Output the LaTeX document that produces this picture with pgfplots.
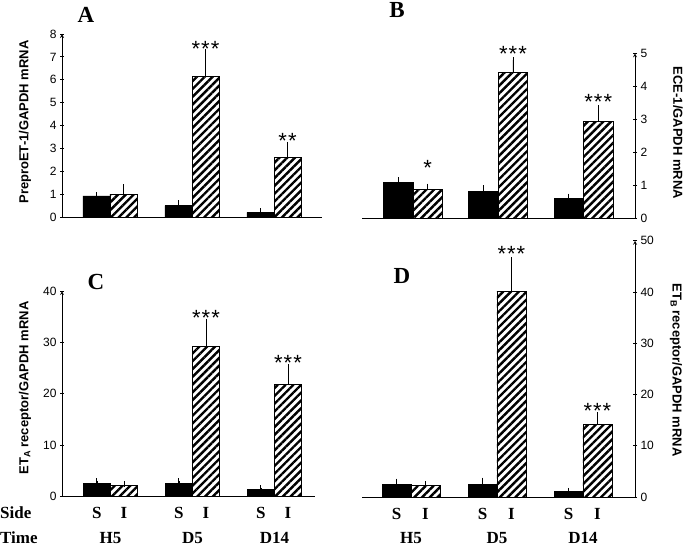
\documentclass[border=0pt]{standalone}
\usepackage{fontspec}
\setmainfont{Liberation Serif}
\newfontfamily\arial{Liberation Sans}
\usepackage{pgfplots}
\pgfplotsset{compat=1.18}
\usepackage{pgfplotstable}
\usetikzlibrary{patterns.meta}

% groups H5, D5, D14 at 0, 1, 2; xs/xi = bar centres of S and I sides
% s/se = S side mean and upper error, i/ie = I side
\pgfplotstableread{
xs xi s se i ie
-0.165 0.165 0.92 0.04 1.0 0.3
0.835 1.165 0.50 0.10 6.15 1.05
1.835 2.165 0.20 0.05 2.60 0.55
}\tabA
\pgfplotstableread{
xs xi s se i ie
-0.173 0.173 1.08 0.07 0.88 0.07
0.827 1.173 0.81 0.09 4.42 0.38
1.827 2.173 0.58 0.07 2.93 0.40
}\tabB
\pgfplotstableread{
xs xi s se i ie
-0.165 0.165 2.6 0.4 2.2 0.2
0.835 1.165 2.5 0.5 29.3 4.7
1.835 2.165 1.4 0.2 21.8 3.4
}\tabC
\pgfplotstableread{
xs xi s se i ie
-0.168 0.168 2.5 0.5 2.2 0.3
0.832 1.168 2.4 0.8 40.1 6.1
1.832 2.168 1.1 0.1 14.2 1.8
}\tabD

\pgfplotsset{
  panel/.style={scale only axis, anchor=south west, clip=false, ymin=0,
    axis x line=bottom, axis line style={-, line width=0.8pt}, xtick=\empty,
    tick align=outside, major tick length=4pt,
    tick style={line width=0.8pt, black},
    ticklabel style={font=\arial\fontsize{12}{14}\selectfont},
    /pgf/number format/assume math mode=true},
  sbar/.style={ybar, bar shift=0pt, fill=black, draw=black, line width=0.8pt},
  ibar/.style={ybar, bar shift=0pt, draw=black, line width=0.8pt,
    pattern={Lines[angle=45, distance=5.5pt, line width=2.4pt]}, pattern color=black},
  errb/.style={error bars/.cd, y dir=plus, y explicit, error mark=-,
    error bar style={line width=0.8pt, black},
    error mark options={line width=1pt, black, mark size=3pt}},
}
\newcommand\stars[3]{\node[anchor=base, inner sep=0pt, yshift=-12.5pt,
  font=\arial\fontsize{22}{22}\selectfont] at (axis cs:#1,#2) {#3};}
\newcommand\ylab[3]{\node[rotate=#3, inner sep=0pt,
  font=\arial\bfseries\fontsize{13}{13}\selectfont] at #1 {#2};}
\newcommand\botlab[3]{\node[anchor=base, inner sep=0pt, font=\bfseries\fontsize{17}{17}\selectfont,
  yshift=#2] at (axis cs:#1,0) {#3};}

\begin{document}
\begin{tikzpicture}[x=1pt, y=1pt]
\useasboundingbox (0,0) rectangle (685,546);

% ---- A
\begin{axis}[panel, at={(62pt,329pt)}, width=260pt, height=183pt,
  xmin=-0.585, xmax=2.585, ymax=8, ytick={0,...,8},
  axis y line=left, bar width=0.33]
\addplot[sbar, errb] table[x=xs, y=s, y error=se] {\tabA};
\addplot[ibar, errb] table[x=xi, y=i, y error=ie] {\tabA};
\stars{1.165}{7.56}{*\kern1pt*\kern1pt*}
\stars{2.165}{3.54}{*\kern1pt*}
\end{axis}

% ---- B
\begin{axis}[panel, at={(362pt,328pt)}, width=273pt, height=164.7pt,
  xmin=-0.598, xmax=2.604, ymax=5, ytick={0,...,5},
  axis y line=right, bar width=0.346]
\addplot[sbar, errb] table[x=xs, y=s, y error=se] {\tabB};
\addplot[ibar, errb] table[x=xi, y=i, y error=ie] {\tabB};
\stars{0.173}{1.67}{*}
\stars{1.173}{5.13}{*\kern1pt*\kern1pt*}
\stars{2.173}{3.67}{*\kern1pt*\kern1pt*}
\end{axis}

% ---- C
\begin{axis}[panel, at={(62pt,49.3pt)}, width=253pt, height=205.7pt,
  xmin=-0.591, xmax=2.494, ymax=40, ytick={0,10,...,40},
  axis y line=left, bar width=0.33]
\addplot[sbar, errb] table[x=xs, y=s, y error=se] {\tabC};
\addplot[ibar, errb] table[x=xi, y=i, y error=ie] {\tabC};
\stars{1.165}{35.7}{*\kern1pt*\kern1pt*}
\stars{2.165}{27.0}{*\kern1pt*\kern1pt*}
\botlab{-0.165}{-22pt}{S}\botlab{0.165}{-22pt}{I}\botlab{0}{-46.5pt}{H5}
\botlab{0.835}{-22pt}{S}\botlab{1.165}{-22pt}{I}\botlab{1}{-46.5pt}{D5}
\botlab{1.835}{-22pt}{S}\botlab{2.165}{-22pt}{I}\botlab{2}{-46.5pt}{D14}
\end{axis}

% ---- D
\begin{axis}[panel, at={(362pt,49pt)}, width=273pt, height=256.25pt,
  xmin=-0.57, xmax=2.605, ymax=50, ytick={0,10,...,50},
  axis y line=right, bar width=0.337]
\addplot[sbar, errb] table[x=xs, y=s, y error=se] {\tabD};
\addplot[ibar, errb] table[x=xi, y=i, y error=ie] {\tabD};
\stars{1.168}{48.4}{*\kern1pt*\kern1pt*}
\stars{2.168}{17.8}{*\kern1pt*\kern1pt*}
\botlab{-0.168}{-22pt}{S}\botlab{0.168}{-22pt}{I}\botlab{0}{-46.5pt}{H5}
\botlab{0.832}{-22pt}{S}\botlab{1.168}{-22pt}{I}\botlab{1}{-46.5pt}{D5}
\botlab{1.832}{-22pt}{S}\botlab{2.168}{-22pt}{I}\botlab{2}{-46.5pt}{D14}
\end{axis}

% panel letters
\foreach \p/\l in {{(86,531)}/A, {(397,536)}/B, {(96,264)}/C, {(402,270)}/D}
  \node[font=\bfseries\fontsize{23}{23}\selectfont] at \p {\l};

% y labels
\ylab{(25,424)}{PreproET-1/GAPDH mRNA}{90}
\ylab{(678,413)}{ECE-1/GAPDH mRNA}{-90}
\ylab{(25,158)}{ET\textsubscript{A} receptor/GAPDH mRNA}{90}
\ylab{(676,176)}{ET\textsubscript{B} receptor/GAPDH mRNA}{-90}

% row headings
\node[anchor=base west, inner sep=0pt, font=\bfseries\fontsize{17}{17}\selectfont]
  at (0,27.3) {Side};
\node[anchor=base west, inner sep=0pt, font=\bfseries\fontsize{17}{17}\selectfont]
  at (0,2.8) {Time};
\end{tikzpicture}
\end{document}
